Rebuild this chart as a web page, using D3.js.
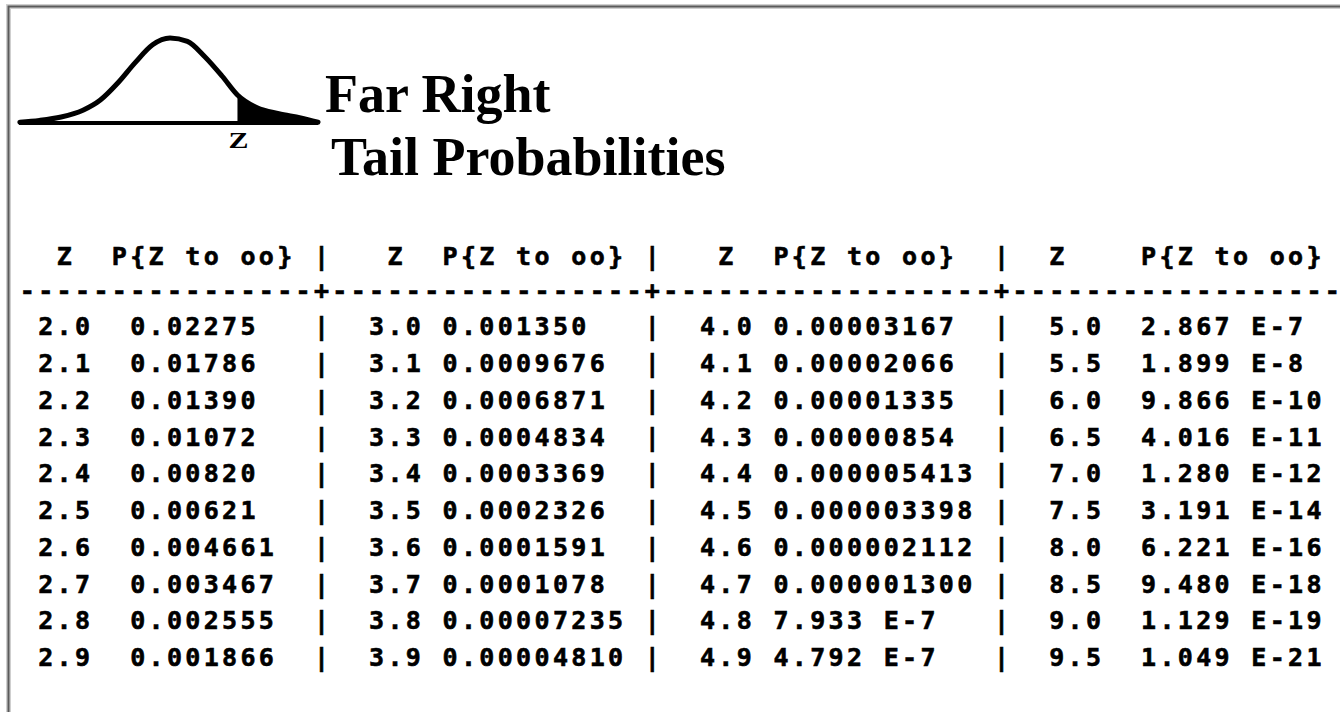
<!DOCTYPE html>
<html>
<head>
<meta charset="utf-8">
<script src="https://cdn.jsdelivr.net/npm/d3@7"></script>
<style>
  html, body { margin: 0; padding: 0; background: #fff; overflow: hidden; }
  .mono { font-family: "DejaVu Sans Mono", monospace; font-weight: bold; font-size: 25px; fill: #000; stroke: #000; stroke-width: 0.6px; }
  .titulo { font-family: "Liberation Serif", "Times New Roman", serif; font-weight: bold; font-size: 54px; fill: #000; }
</style>
</head>
<body>
<svg id="tabla" width="1340" height="712"></svg>
<script>
// --- datos de la tabla ---
const z1 = ["2.0", "2.1", "2.2", "2.3", "2.4", "2.5", "2.6", "2.7", "2.8", "2.9"];
const p1 = ["0.02275", "0.01786", "0.01390", "0.01072", "0.00820", "0.00621", "0.004661", "0.003467", "0.002555", "0.001866"];
const z2 = ["3.0", "3.1", "3.2", "3.3", "3.4", "3.5", "3.6", "3.7", "3.8", "3.9"];
const p2 = ["0.001350", "0.0009676", "0.0006871", "0.0004834", "0.0003369", "0.0002326", "0.0001591", "0.0001078", "0.00007235", "0.00004810"];
const z3 = ["4.0", "4.1", "4.2", "4.3", "4.4", "4.5", "4.6", "4.7", "4.8", "4.9"];
const p3 = ["0.00003167", "0.00002066", "0.00001335", "0.00000854", "0.000005413", "0.000003398", "0.000002112", "0.000001300", "7.933 E-7", "4.792 E-7"];
const z4 = ["5.0", "5.5", "6.0", "6.5", "7.0", "7.5", "8.0", "8.5", "9.0", "9.5"];
const p4 = ["2.867 E-7", "1.899 E-8", "9.866 E-10", "4.016 E-11", "1.280 E-12", "3.191 E-14", "6.221 E-16", "9.480 E-18", "1.129 E-19", "1.049 E-21"];
const encabezado = ["Z", "P{Z to oo}"];
const titulo = ["Far Right", "Tail Probabilities"];

// curva del icono: z y altura relativa
const campanaZ = [-3.45, -3, -2.5, -2, -1.6, -1.2, -0.8, -0.4, 0, 0.4, 0.8, 1.2, 1.55, 2, 2.5, 3, 3.4];
const campanaH = [0.01, 0.03, 0.07, 0.15, 0.27, 0.47, 0.71, 0.92, 1.0, 0.96, 0.78, 0.55, 0.33, 0.18, 0.11, 0.06, 0.01];
const zCorte = 1.55;

const svg = d3.select("#tabla");

// marco
const marco = svg.append("g");
marco.append("path").attr("d", "M8.5,740 V6.5 H1360")
  .attr("fill", "none").attr("stroke", "#cfcfcf").attr("stroke-width", 5);
marco.append("path").attr("d", "M8.5,740 V6.5 H1360")
  .attr("fill", "none").attr("stroke", "#5a5a5a").attr("stroke-width", 2);

// icono de la campana
const bx = d3.scaleLinear().domain([-3.4, 3.4]).range([22, 318]);
const by = d3.scaleLinear().domain([0, 1]).range([123, 38]);
const pts = campanaZ.map((z, i) => ({ z, h: campanaH[i] }));

const icono = svg.append("g");
icono.append("path")
  .datum(pts.filter(d => d.z >= zCorte))
  .attr("d", d3.area().x(d => bx(d.z)).y0(by(0)).y1(d => by(d.h)).curve(d3.curveMonotoneX))
  .attr("fill", "#000");
icono.append("path")
  .datum(pts)
  .attr("d", d3.line().x(d => bx(d.z)).y(d => by(d.h)).curve(d3.curveMonotoneX))
  .attr("fill", "none").attr("stroke", "#000").attr("stroke-width", 5)
  .attr("stroke-linejoin", "round").attr("stroke-linecap", "round");
icono.append("line")
  .attr("x1", 19).attr("x2", bx(3.4)).attr("y1", by(0)).attr("y2", by(0))
  .attr("stroke", "#000").attr("stroke-width", 4);
icono.append("text")
  .attr("x", bx(zCorte) - 9).attr("y", 148)
  .attr("textLength", 20).attr("lengthAdjust", "spacingAndGlyphs")
  .style("font-family", "Liberation Serif, serif").style("font-weight", "bold").style("font-size", "23px")
  .text("Z");

// titulo
svg.selectAll("text.titulo")
  .data(titulo)
  .join("text")
  .attr("class", "titulo")
  .attr("x", (_, i) => i === 0 ? 325 : 331)
  .attr("y", (_, i) => i === 0 ? 112 : 175)
  .text(d => d);

// rejilla monoespaciada
const paso = 18.38;
const col = d3.scaleLinear().domain([0, 72]).range([18.2, 18.2 + 72 * paso]);
const fila = d3.scaleLinear().domain([0, 9]).range([335.3, 666]);
const ls = paso - 0.602 * 25;
const cx = n => col(n) + ls / 2;

const secciones = [
  { z: z1, p: p1, cz: 1, cp: 6, hz: 2, hp: 5, barra: 16 },
  { z: z2, p: p2, cz: 19, cp: 23, hz: 20, hp: 23, barra: 34 },
  { z: z3, p: p3, cz: 37, cp: 41, hz: 38, hp: 41, barra: 53 },
  { z: z4, p: p4, cz: 56, cp: 61, hz: 56, hp: 61, barra: null }
];

const tabla = svg.append("g").attr("class", "mono").style("letter-spacing", ls + "px");
const yEnc = 265;
const yRaya = fila(-1);

secciones.forEach(s => {
  tabla.append("text").attr("x", cx(s.hz)).attr("y", yEnc).text(encabezado[0]);
  tabla.append("text").attr("x", cx(s.hp)).attr("y", yEnc).text(encabezado[1]);
  if (s.barra !== null) {
    tabla.append("text").attr("x", cx(s.barra)).attr("y", yEnc).text("|");
  }
  const g = tabla.append("g");
  g.selectAll("text.z").data(s.z).join("text").attr("class", "z")
    .attr("x", cx(s.cz)).attr("y", (_, i) => fila(i)).text(d => d);
  g.selectAll("text.p").data(s.p).join("text").attr("class", "p")
    .attr("x", cx(s.cp)).attr("y", (_, i) => fila(i)).text(d => d);
  if (s.barra !== null) {
    g.selectAll("text.b").data(s.z).join("text").attr("class", "b")
      .attr("x", cx(s.barra)).attr("y", (_, i) => fila(i)).text("|");
  }
});

// linea de guiones
const cruces = secciones.filter(s => s.barra !== null).map(s => s.barra);
const raya = d3.range(71).map(n => cruces.includes(n) ? "+" : "-").join("");
tabla.append("text").attr("x", cx(0)).attr("y", yRaya).text(raya);
tabla.append("text").attr("x", cx(71)).attr("y", yRaya).style("letter-spacing", "0px").text("-");
</script>
</body>
</html>
